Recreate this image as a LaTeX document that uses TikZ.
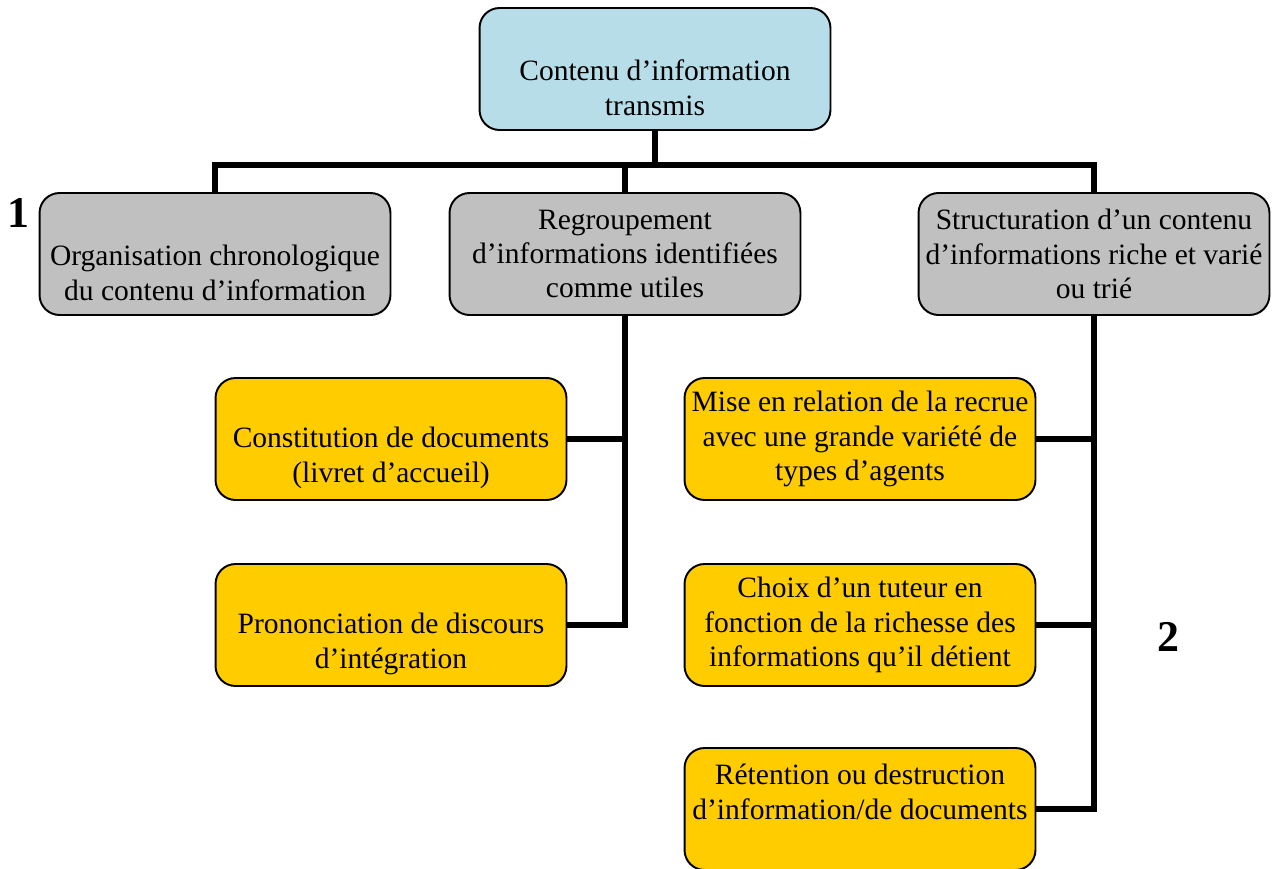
\documentclass[tikz,border=0pt]{standalone}
\usepackage{fontspec}
\setmainfont{Liberation Serif}
\usetikzlibrary{calc,positioning}
\definecolor{topblue}{HTML}{B7DEE8}
\definecolor{boxgray}{HTML}{C0C0C0}
\definecolor{boxyellow}{HTML}{FFCC00}
\tikzset{every node/.append style={font=\fontsize{16.8}{19.6}\selectfont}}

\begin{document}
\begin{tikzpicture}[x=0.02cm, y=-0.02cm]
    \tikzstyle{bnode} = [draw, line width=1.1pt, rounded corners=0.4cm, align=center,
                         minimum width=7.02cm, minimum height=2.44cm, inner sep=1pt]
    \tikzstyle{tnode} = [bnode, fill=topblue]
    \tikzstyle{gnode} = [bnode, fill=boxgray]
    \tikzstyle{ynode} = [bnode, fill=boxyellow]
    \tikzstyle{conn} = [line width=2.9pt]
    \tikzstyle{num} = [font=\bfseries\fontsize{25}{30}\selectfont]

    \useasboundingbox (0,0) rectangle (1279,869);

    % top
    \node[tnode] (cont) at (655,69) {\strut\\Contenu d'information\\transmis};

    % second row
    \node[gnode] (orga) at (215,254) {\strut\\Organisation chronologique\\du contenu d'information};
    \node[gnode] (regr) at (625,254) {Regroupement\\d'informations identifiées\\comme utiles};
    \node[gnode] (struc) at (1094,254) {Structuration d'un contenu\\d'informations riche et varié\\ou trié};

    % left branch
    \node[ynode] (const) at (391,439) {\strut\\Constitution de documents\\(livret d'accueil)};
    \node[ynode] (prono) at (391,625) {\strut\\Prononciation de discours\\d'intégration};

    % right branch
    \node[ynode] (mise) at (860,439) {Mise en relation de la recrue\\avec une grande variété de\\types d'agents};
    \node[ynode] (choix) at (860,625) {Choix d'un tuteur en\\fonction de la richesse des\\informations qu'il détient};
    \node[ynode] (reten) at (860,809) {Rétention ou destruction\\d'information/de documents\\\mbox{}};

    \node[num] (one) at (18,213) {1};
    \node[num] (two) at (1168,637) {2};

    \coordinate (bus) at (655,165);
    \draw[conn] (cont) -- (bus);
    \draw[conn] (orga.north) |- (bus) -| (struc.north);
    \draw[conn] (regr.north) -- (regr.north |- bus);

    \draw[conn] (regr.south) |- (prono.east);
    \draw[conn] (const.east) -- (const.east -| regr.south);

    \draw[conn] (struc.south) |- (reten.east);
    \draw[conn] (mise.east) -- (mise.east -| struc.south);
    \draw[conn] (choix.east) -- (choix.east -| struc.south);
\end{tikzpicture}
\end{document}
